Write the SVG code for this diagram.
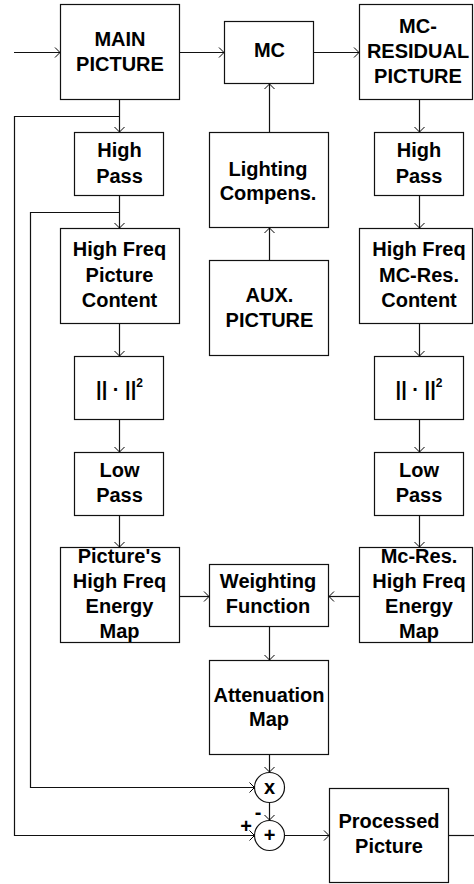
<svg xmlns="http://www.w3.org/2000/svg" width="474" height="884" viewBox="0 0 474 884">
<defs>
<marker id="arr" viewBox="-6 -6 7 12" refX="0" refY="0" markerWidth="7" markerHeight="12" markerUnits="userSpaceOnUse" orient="auto">
<path d="M-5,-5 L0,0 L-5,5" fill="none" stroke="#000" stroke-width="1"/>
</marker>
</defs>
<style>
rect.b{fill:#fff;stroke:#111;stroke-width:1.2}
circle.c{fill:#fff;stroke:#111;stroke-width:1.2}
text{font-family:"Liberation Sans",Arial,sans-serif;font-weight:bold;font-size:20px;text-anchor:middle;fill:#000}
.con path{fill:none;stroke:#111;stroke-width:1.2;marker-end:url(#arr)}
.con path.n{marker-end:none}
</style>
<rect width="474" height="884" fill="#fff"/>
<g class="con" id="connectors">
<path d="M14,52.5 H60"/>
<path d="M180,52.5 H224"/>
<path d="M314,52.5 H359"/>
<path d="M119.5,100 V132"/>
<path d="M419.5,100 V132"/>
<path d="M269.5,132 V84"/>
<path d="M269.5,260 V228"/>
<path d="M119.5,196 V228"/>
<path d="M419.5,196 V228"/>
<path d="M119.5,324 V356"/>
<path d="M419.5,324 V356"/>
<path d="M119.5,420 V452"/>
<path d="M419.5,420 V452"/>
<path d="M119.5,516 V547"/>
<path d="M419.5,516 V547"/>
<path d="M180,596.5 H209"/>
<path d="M359,596.5 H329"/>
<path d="M269.5,627 V660"/>
<path d="M269.5,755 V772"/>
<path d="M119.5,116.5 H14.5 V835.5 H254.5"/>
<path d="M119.5,212.5 H30.5 V787.5 H254.5"/>
<path d="M269.5,802.5 V820"/>
<path d="M285,835.5 H329"/>
<path class="n" d="M449,835.5 H474"/>
</g>
<g id="main"><rect class="b" x="60.5" y="4.5" width="119" height="95"/><text x="120" y="45.5">MAIN</text><text x="120" y="71">PICTURE</text></g>
<g id="mc"><rect class="b" x="224.5" y="21.5" width="89" height="62"/><text x="269.5" y="57">MC</text></g>
<g id="mcres"><rect class="b" x="359.5" y="4.5" width="113" height="95"/><text x="418" y="33">MC-</text><text x="418" y="58">RESIDUAL</text><text x="418" y="83">PICTURE</text></g>
<g id="hp1"><rect class="b" x="74.5" y="132.5" width="89" height="63"/><text x="119.5" y="157">High</text><text x="119.5" y="183">Pass</text></g>
<g id="hp2"><rect class="b" x="374.5" y="132.5" width="89" height="63"/><text x="419" y="157">High</text><text x="419" y="183">Pass</text></g>
<g id="light"><rect class="b" x="209.5" y="132.5" width="119" height="95"/><text x="268" y="176">Lighting</text><text x="268" y="200">Compens.</text></g>
<g id="hf1"><rect class="b" x="60.5" y="228.5" width="119" height="95"/><text x="119.5" y="256">High Freq</text><text x="119.5" y="282">Picture</text><text x="119.5" y="307">Content</text></g>
<g id="hf2"><rect class="b" x="359.5" y="228.5" width="113" height="95"/><text x="419" y="256">High Freq</text><text x="419" y="282">MC-Res.</text><text x="419" y="307">Content</text></g>
<g id="aux"><rect class="b" x="209.5" y="260.5" width="119" height="95"/><text x="269.5" y="302">AUX.</text><text x="269.5" y="327">PICTURE</text></g>
<g id="norm1"><rect class="b" x="74.5" y="356.5" width="89" height="63"/><text x="119.5" y="396">|| · ||<tspan font-size="12" dy="-9">2</tspan></text></g>
<g id="norm2"><rect class="b" x="374.5" y="356.5" width="89" height="63"/><text x="419" y="396">|| · ||<tspan font-size="12" dy="-9">2</tspan></text></g>
<g id="lp1"><rect class="b" x="74.5" y="452.5" width="89" height="63"/><text x="119.5" y="477">Low</text><text x="119.5" y="502">Pass</text></g>
<g id="lp2"><rect class="b" x="374.5" y="452.5" width="89" height="63"/><text x="419" y="477">Low</text><text x="419" y="502">Pass</text></g>
<g id="pe1"><rect class="b" x="60.5" y="547.5" width="119" height="95"/><text x="119.5" y="563">Picture's</text><text x="119.5" y="588">High Freq</text><text x="119.5" y="613">Energy</text><text x="119.5" y="638">Map</text></g>
<g id="pe2"><rect class="b" x="359.5" y="547.5" width="113" height="95"/><text x="419" y="563">Mc-Res.</text><text x="419" y="588">High Freq</text><text x="419" y="613">Energy</text><text x="419" y="638">Map</text></g>
<g id="wf"><rect class="b" x="209.5" y="564.5" width="119" height="62"/><text x="268" y="588">Weighting</text><text x="268" y="613">Function</text></g>
<g id="att"><rect class="b" x="209.5" y="660.5" width="119" height="94"/><text x="269" y="702">Attenuation</text><text x="269" y="726">Map</text></g>
<g id="mul"><circle class="c" cx="269.5" cy="787.5" r="15"/><text x="269.5" y="794">x</text></g>
<g id="add"><circle class="c" cx="269.5" cy="835.5" r="15"/><text x="269.5" y="842">+</text><text x="258" y="819" font-size="18">-</text><text x="246" y="833" font-size="20">+</text></g>
<g id="proc"><rect class="b" x="329.5" y="788.5" width="119" height="94"/><text x="389" y="828">Processed</text><text x="389" y="853">Picture</text></g>
</svg>
